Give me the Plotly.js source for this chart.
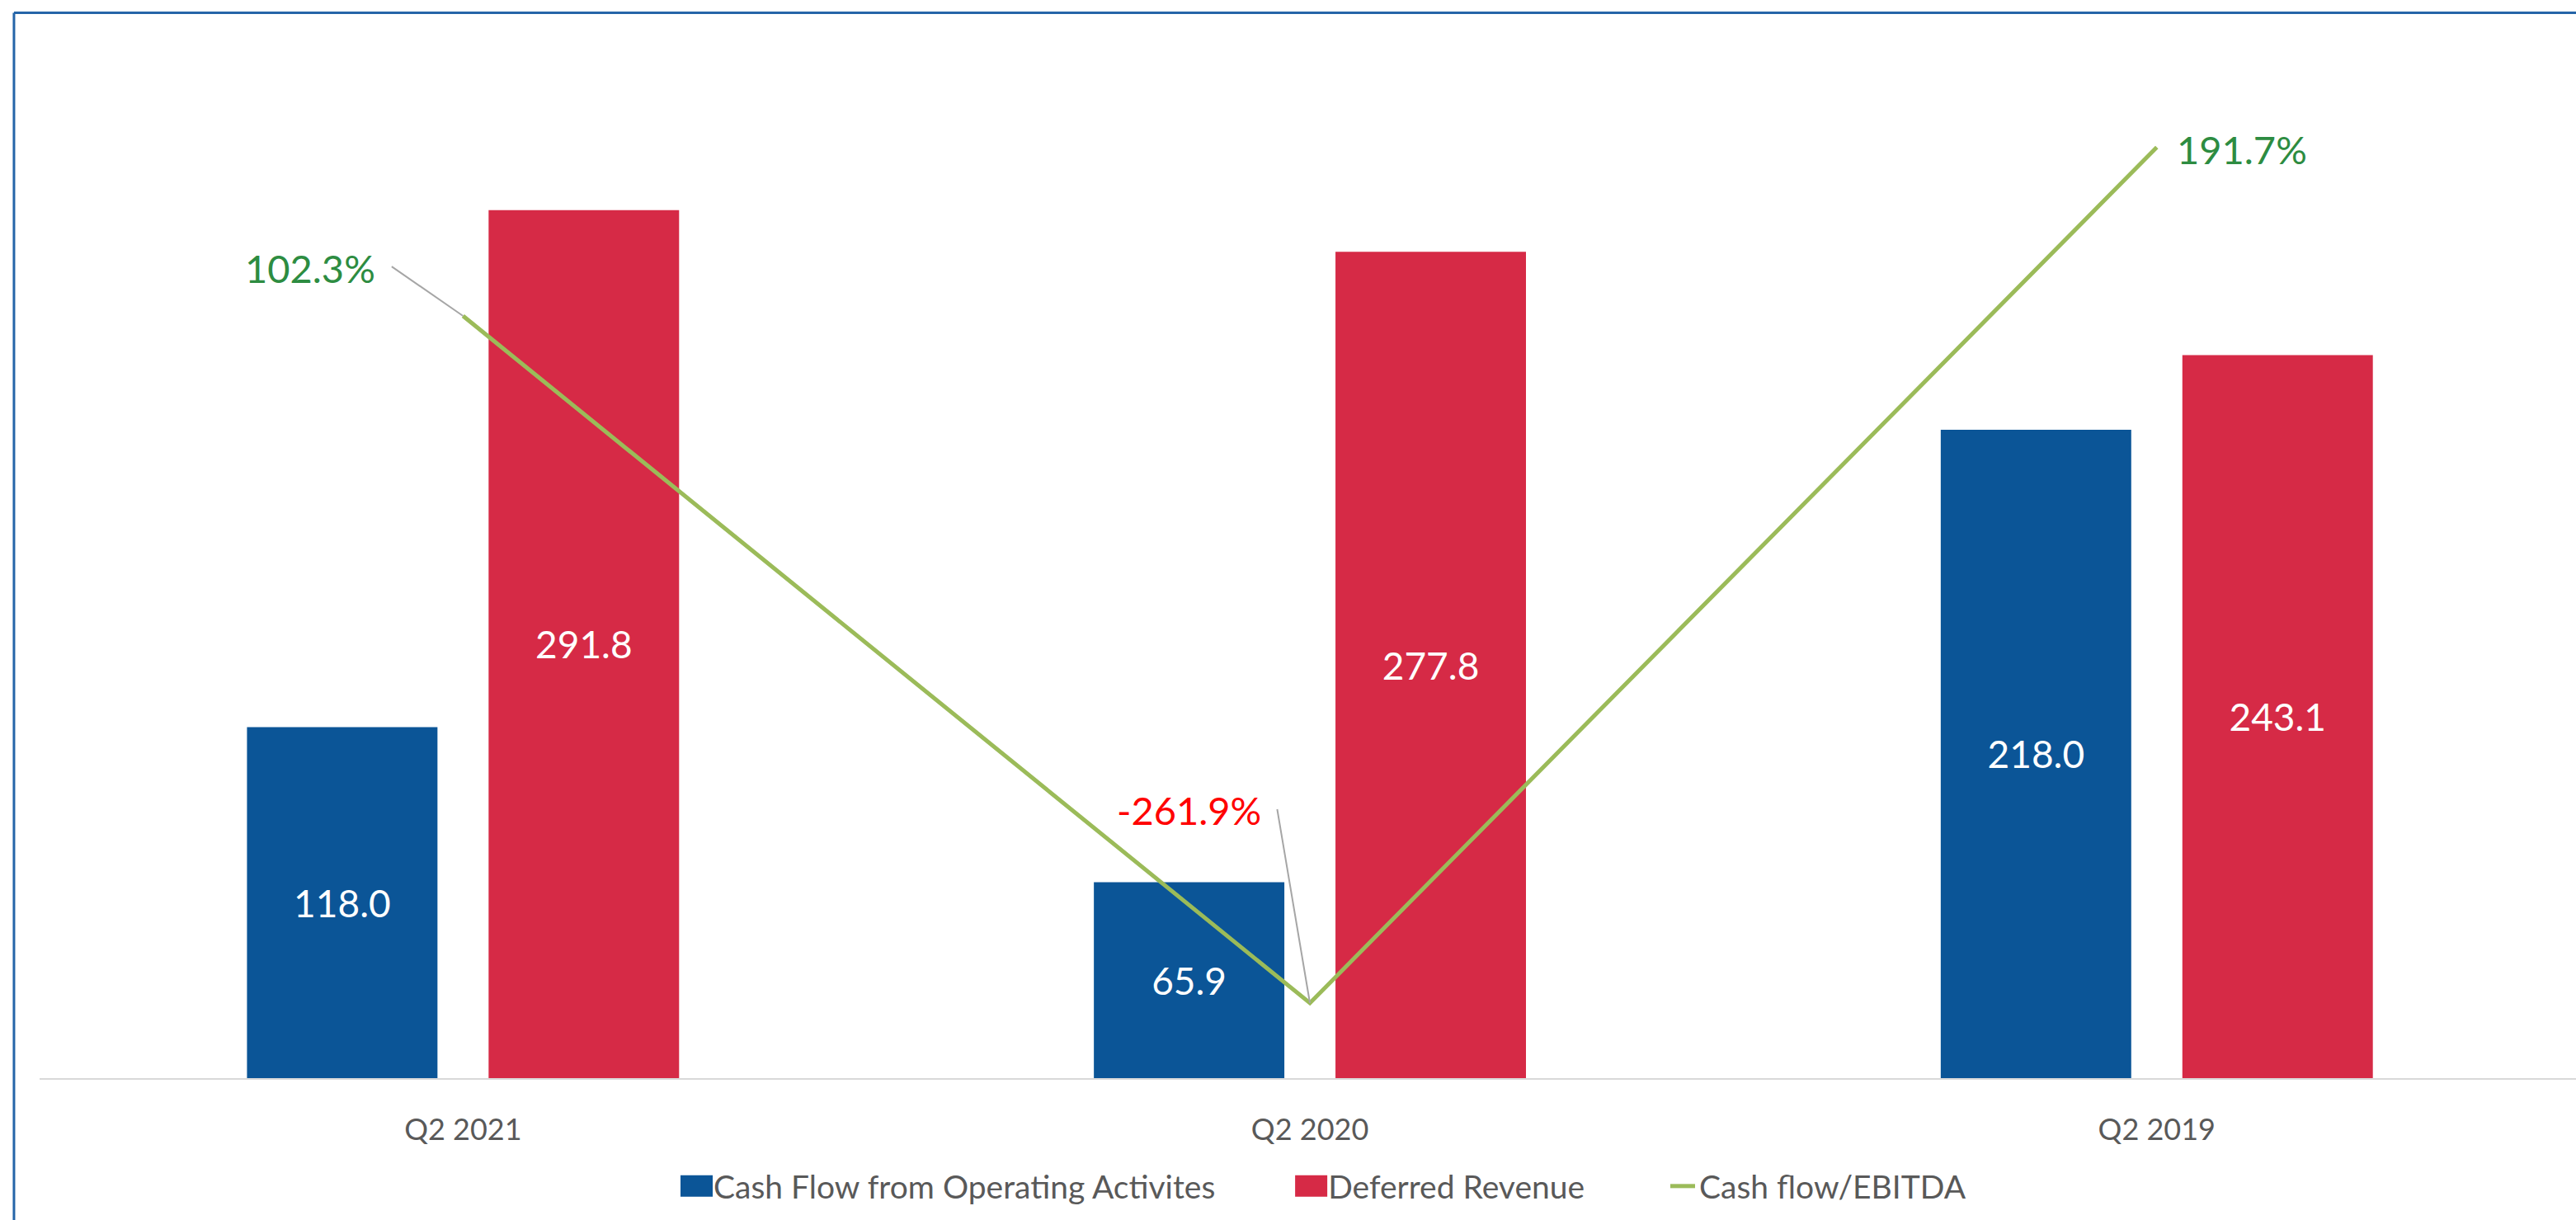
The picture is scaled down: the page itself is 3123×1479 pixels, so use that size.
<!DOCTYPE html>
<html>
<head>
<meta charset="utf-8">
<script src="https://cdn.plot.ly/plotly-3.0.1.min.js"></script>
<style>
  html, body { margin: 0; padding: 0; background: #ffffff; }
  #chart { width: 3123px; height: 1479px; }
</style>
</head>
<body>
<div id="chart"></div>
<script>
const categories = ["Q2 2021", "Q2 2020", "Q2 2019"];
const cashFlowOps = [118.0, 65.9, 218.0];
const deferredRevenue = [291.8, 277.8, 243.1];
const cashFlowEbitda = [102.3, -261.9, 191.7];
const seriesNames = ["Cash Flow from Operating Activites", "Deferred Revenue", "Cash flow/EBITDA"];

const FONT = "Lato, 'Open Sans', sans-serif";

const traces = [
  {
    type: "bar", name: seriesNames[0], x: categories, y: cashFlowOps, legend: "legend",
    marker: { color: "#0B5597" },
    texttemplate: "%{y:.1f}", textposition: "inside", insidetextanchor: "middle",
    textangle: 0, textfont: { color: "#ffffff", size: 46, family: FONT },
    constraintext: "none"
  },
  {
    type: "bar", name: seriesNames[1], x: categories, y: deferredRevenue, legend: "legend2",
    marker: { color: "#D62A46" },
    texttemplate: "%{y:.1f}", textposition: "inside", insidetextanchor: "middle",
    textangle: 0, textfont: { color: "#ffffff", size: 46, family: FONT },
    constraintext: "none"
  },
  {
    type: "scatter", mode: "lines", name: seriesNames[2], x: categories, y: cashFlowEbitda,
    yaxis: "y2", legend: "legend3", line: { color: "#9BBB59", width: 5 }
  }
];

const labelColors = ["#2D8C41", "#FF0000", "#2D8C41"];
const labelShift = [[-185, 58], [-147, 234], [103, -2]];
const leaderTail = [[-88, -61], [-40, -237], null];

const annotations = [];
cashFlowEbitda.forEach((v, i) => {
  annotations.push({
    x: categories[i], y: v, xref: "x", yref: "y2",
    text: v.toFixed(1) + "%", showarrow: false,
    xshift: labelShift[i][0], yshift: labelShift[i][1],
    font: { color: labelColors[i], size: 47, family: FONT }
  });
  if (leaderTail[i]) {
    annotations.push({
      x: categories[i], y: v, xref: "x", yref: "y2",
      text: " ", font: { size: 1 },
      showarrow: true, arrowhead: 0, arrowwidth: 2, arrowcolor: "#A6A6A6",
      ax: leaderTail[i][0], ay: leaderTail[i][1], standoff: 0, startstandoff: 0
    });
  }
});

function legendAt(x) {
  return {
    orientation: "h", x: x, xanchor: "left", y: -0.1038, yanchor: "middle",
    font: { size: 39, color: "#595959", family: FONT },
    bgcolor: "rgba(0,0,0,0)", borderwidth: 0
  };
}

const layout = {
  width: 3123, height: 1479,
  margin: { l: 48, r: 0, t: 45, b: 172, pad: 0 },
  paper_bgcolor: "#ffffff", plot_bgcolor: "#ffffff",
  barmode: "group", bargap: 0.4294, bargroupgap: 0.2116,
  showlegend: true,
  legend: legendAt(0.2527),
  legend2: legendAt(0.4950),
  legend3: legendAt(0.6413),
  xaxis: {
    type: "category", range: [-0.5, 2.495],
    showline: true, linecolor: "#D9D9D9", linewidth: 2,
    showgrid: false, zeroline: false, ticks: "",
    tickfont: { size: 36, color: "#595959", family: FONT },
    ticklabelstandoff: 30
  },
  yaxis: {
    range: [0, 350], showgrid: false, zeroline: false,
    showticklabels: false, showline: false, ticks: ""
  },
  yaxis2: {
    range: [-301.7, 250.1], overlaying: "y", side: "right",
    showgrid: false, zeroline: false, showticklabels: false, showline: false, ticks: ""
  },
  annotations: annotations,
  shapes: [
    { type: "line", xref: "paper", yref: "paper", x0: -0.0101, x1: 1.001, y0: 1.0234, y1: 1.0234,
      line: { color: "#2565A8", width: 3 } },
    { type: "line", xref: "paper", yref: "paper", x0: -0.0101, x1: -0.0101, y0: 1.0234, y1: -0.14,
      line: { color: "#2565A8", width: 3 } }
  ],
  hovermode: false
};

function enlargeLegendKeys() {
  const gd = document.getElementById("chart");
  gd.querySelectorAll(".legendpoints path").forEach(p => {
    const d = (p.getAttribute("d") || "").replace(/\s/g, "");
    if (d === "M6,6H-6V-6H6Z") p.setAttribute("d", "M19,13H-36V-13H19Z");
  });
}

Plotly.newPlot("chart", traces, layout, { staticPlot: true, displayModeBar: false }).then(() => {
  enlargeLegendKeys();
  setTimeout(enlargeLegendKeys, 50);
});
</script>
</body>
</html>
